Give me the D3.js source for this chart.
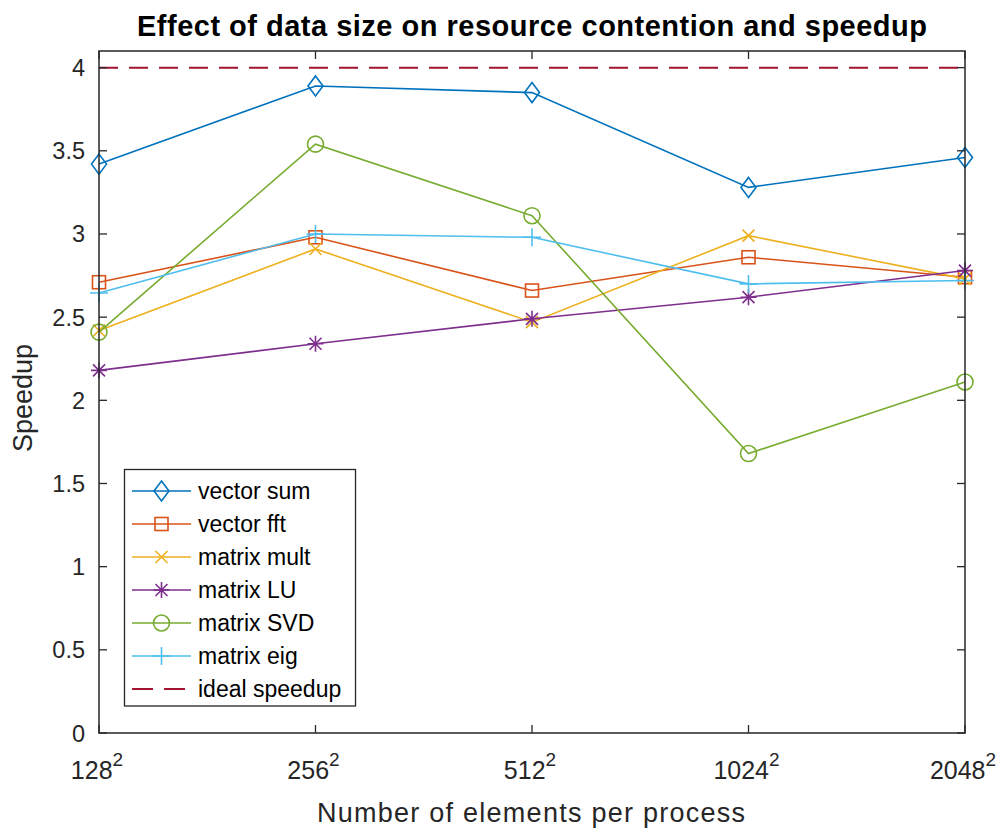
<!DOCTYPE html>
<html><head><meta charset="utf-8">
<script src="https://cdn.jsdelivr.net/npm/d3@7"></script>
<style>body{margin:0;background:#fff}svg{display:block}text{font-family:"Liberation Sans",Arial,sans-serif}</style>
</head><body><svg id="c" width="1005" height="829"></svg>
<script>
const sizes = [128, 256, 512, 1024, 2048];
const yTicks = [0, 0.5, 1, 1.5, 2, 2.5, 3, 3.5, 4];
const seriesNames = ["vector sum","vector fft","matrix mult","matrix LU","matrix SVD","matrix eig"];
const vectorSum  = [3.42, 3.89, 3.85, 3.28, 3.46];
const vectorFft  = [2.71, 2.98, 2.66, 2.86, 2.74];
const matrixMult = [2.42, 2.91, 2.47, 2.99, 2.73];
const matrixLU   = [2.18, 2.34, 2.49, 2.62, 2.78];
const matrixSVD  = [2.41, 3.54, 3.11, 1.68, 2.11];
const matrixEig  = [2.645, 3.00, 2.98, 2.70, 2.72];
const idealSpeedup = 4;
const colors = ["#0072BD","#D95319","#EDB120","#7E2F8E","#77AC30","#4DBEEE"];
const markers = ["diamond","square","x","star","circle","plus"];
const allSeries = [vectorSum, vectorFft, matrixMult, matrixLU, matrixSVD, matrixEig];

const svg = d3.select("#c");
const L = 99, R = 965, T = 51, B = 733;
const x = d3.scaleLog().base(2).domain([128*128, 2048*2048]).range([L, R]);
const y = d3.scaleLinear().domain([0, 4.1]).range([B, T]);
const axisCol = "#262626";

function drawMarker(g, type, cx, cy, col) {
  const s = g.append("g").attr("transform", `translate(${cx},${cy})`)
    .attr("fill","none").attr("stroke", col).attr("stroke-width", 1.6);
  if (type === "diamond") s.append("path").attr("d","M0,-10L7.5,0L0,10L-7.5,0Z");
  else if (type === "square") s.append("rect").attr("x",-6.5).attr("y",-6.5).attr("width",13).attr("height",13);
  else if (type === "circle") s.append("circle").attr("r",8);
  else if (type === "x") s.append("path").attr("d","M-6,-6L6,6M-6,6L6,-6");
  else if (type === "plus") s.append("path").attr("d","M-9,0L9,0M0,-9L0,9");
  else if (type === "star") s.append("path").attr("d","M-8,0L8,0M0,-8L0,8M-6,-6L6,6M-6,6L6,-6");
}

svg.append("line").attr("x1", L).attr("x2", R).attr("y1", y(idealSpeedup)).attr("y2", y(idealSpeedup))
  .attr("stroke","#A2142F").attr("stroke-width",2).attr("stroke-dasharray","19,11");

const line = d3.line().x((d,i)=>x(sizes[i]*sizes[i])).y(d=>y(d));
allSeries.forEach((vals, k) => {
  svg.append("path").datum(vals).attr("d", line).attr("fill","none")
    .attr("stroke", colors[k]).attr("stroke-width", 1.6);
  vals.forEach((v,i)=>drawMarker(svg, markers[k], x(sizes[i]*sizes[i]), y(v), colors[k]));
});

svg.append("rect").attr("x",L).attr("y",T).attr("width",R-L).attr("height",B-T)
  .attr("fill","none").attr("stroke",axisCol).attr("stroke-width",1.5);
const tl = 8;
yTicks.forEach(t => {
  const yy = y(t);
  svg.append("line").attr("x1",L).attr("x2",L+tl).attr("y1",yy).attr("y2",yy).attr("stroke",axisCol).attr("stroke-width",1.3);
  svg.append("line").attr("x1",R).attr("x2",R-tl).attr("y1",yy).attr("y2",yy).attr("stroke",axisCol).attr("stroke-width",1.3);
  svg.append("text").attr("x",L-14).attr("y",yy+8.5).attr("text-anchor","end")
    .attr("font-size",23.5).attr("fill",axisCol).text(t);
});
sizes.forEach(s => {
  const xx = x(s*s);
  svg.append("line").attr("x1",xx).attr("x2",xx).attr("y1",B).attr("y2",B-tl).attr("stroke",axisCol).attr("stroke-width",1.3);
  svg.append("line").attr("x1",xx).attr("x2",xx).attr("y1",T).attr("y2",T+tl).attr("stroke",axisCol).attr("stroke-width",1.3);
  const t = svg.append("text").attr("x",xx-2).attr("y",779).attr("text-anchor","middle").attr("fill",axisCol);
  t.append("tspan").attr("font-size",25).text(s);
  t.append("tspan").attr("font-size",19).attr("dy",-13).text("2");
});

svg.append("text").attr("x",532).attr("y",36).attr("text-anchor","middle").attr("font-weight","bold")
  .attr("font-size",29).attr("fill","#000").attr("textLength",790).attr("lengthAdjust","spacing")
  .text("Effect of data size on resource contention and speedup");
svg.append("text").attr("x",531).attr("y",822).attr("text-anchor","middle")
  .attr("font-size",27).attr("fill",axisCol).attr("textLength",428).attr("lengthAdjust","spacing")
  .text("Number of elements per process");
svg.append("text").attr("transform","translate(32,398) rotate(-90)").attr("text-anchor","middle")
  .attr("font-size",27).attr("fill",axisCol).text("Speedup");

const lg = svg.append("g");
lg.append("rect").attr("x",124.5).attr("y",469.5).attr("width",231).attr("height",236.5)
  .attr("fill","#fff").attr("stroke",axisCol).attr("stroke-width",1.3);
const legNames = seriesNames.concat(["ideal speedup"]);
legNames.forEach((n,i) => {
  const yy = 491 + i*33;
  if (i < 6) {
    lg.append("line").attr("x1",132).attr("x2",191).attr("y1",yy).attr("y2",yy).attr("stroke",colors[i]).attr("stroke-width",1.6);
    drawMarker(lg, markers[i], 161.5, yy, colors[i]);
  } else {
    lg.append("line").attr("x1",132).attr("x2",191).attr("y1",yy).attr("y2",yy).attr("stroke","#A2142F")
      .attr("stroke-width",2).attr("stroke-dasharray","21,11");
  }
  lg.append("text").attr("x",198).attr("y",yy+8).attr("font-size",23).attr("fill","#000").text(n);
});
</script></body></html>
